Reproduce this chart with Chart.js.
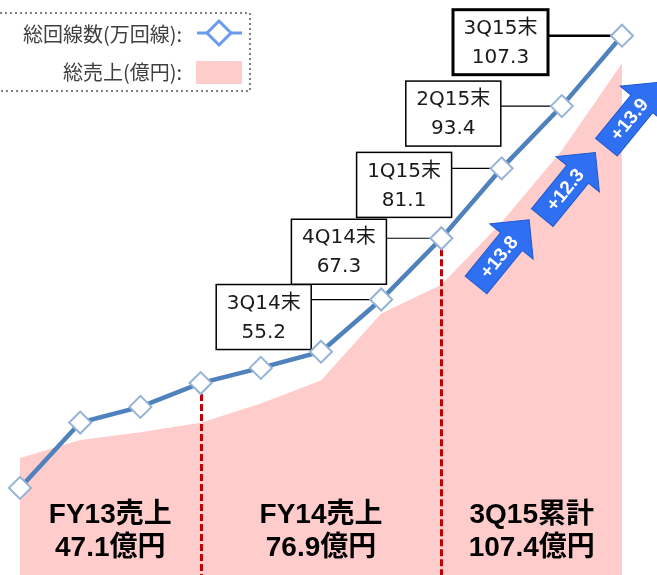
<!DOCTYPE html>
<html>
<head>
<meta charset="utf-8">
<script src="https://cdn.jsdelivr.net/npm/chart.js@4/dist/chart.umd.min.js"></script>
<style>
  html, body { margin: 0; padding: 0; background: #fff; }
  #wrap { width: 657px; height: 575px; position: relative; }
</style>
</head>
<body>
<div id="wrap"><canvas id="chart" width="657" height="575"></canvas></div>
<script>
// quarters (end of quarter)
let quarters = ['1Q13末', '2Q13末', '3Q13末', '4Q13末', '1Q14末', '2Q14末', '3Q14末', '4Q14末', '1Q15末', '2Q15末', '3Q15末'];
// total lines (万回線)
let lineCounts = [18.0, 30.9, 34.0, 38.7, 41.7, 44.9, 55.2, 67.3, 81.1, 93.4, 107.3];
// total sales trend (億円)
let salesTrend = [12.2, 14.1, 14.9, 15.9, 17.9, 20.3, 27.3, 30.3, 36.8, 44.3, 53.4];
// quarters that get a call-out box
let calloutIdx = [6, 7, 8, 9, 10];
// quarters with a growth arrow (growth vs previous quarter)
let arrowIdx = [8, 9, 10];
// fiscal year boundaries (dashed lines)
let boundaryIdx = [3, 7];
// bottom captions
let periodTitles = ['FY13売上', 'FY14売上', '3Q15累計'];
let periodSales = ['47.1億円', '76.9億円', '107.4億円'];
let periodSpans = [[0, 3], [3, 7], [7, 10]];

let legendLabels = ['総回線数(万回線):', '総売上(億円):'];

// layout tweaks for call-out boxes: [right edge offset from point, top offset from point]
let calloutPos = [[-70, -15], [-55, -19], [-50, -16], [-61, -25], [-74, -26]];
let arrowPos = [[1, 84], [7, 79], [11, 79]];

const CJK = '"Noto Sans CJK JP", sans-serif';

let overlay = {
  id: 'overlay',
  afterDatasetDraw(chart, args) {
    if (args.index !== 1) return;
    const ctx = chart.ctx;
    const meta = chart.getDatasetMeta(0);
    const bottom = chart.chartArea.bottom;
    ctx.save();
    // dashed red boundaries
    ctx.strokeStyle = '#c00000';
    ctx.lineWidth = 3;
    ctx.setLineDash([7, 3]);
    boundaryIdx.forEach(i => {
      const p = meta.data[i];
      const x = Math.round(p.x) + 0.5;
      ctx.beginPath();
      ctx.moveTo(x, p.y + 11);
      ctx.lineTo(x, bottom);
      ctx.stroke();
    });
    ctx.setLineDash([]);

    // bottom captions
    ctx.fillStyle = '#000';
    ctx.textAlign = 'center';
    ctx.textBaseline = 'middle';
    ctx.font = 'bold 28px "Liberation Sans", ' + CJK;
    periodSpans.forEach((s, k) => {
      const cx = (meta.data[s[0]].x + meta.data[s[1]].x) / 2;
      ctx.fillText(periodTitles[k], cx, bottom - 60);
      ctx.fillText(periodSales[k], cx, bottom - 27);
    });

    // call-out connectors and boxes
    calloutIdx.forEach((i, k) => {
      const p = meta.data[i];
      const last = k === calloutIdx.length - 1;
      const w = 95, h = 65;
      const right = p.x + calloutPos[k][0];
      const top = p.y + calloutPos[k][1];
      ctx.strokeStyle = '#000';
      ctx.lineWidth = last ? 2.5 : 1.2;
      ctx.beginPath();
      ctx.moveTo(right, p.y);
      ctx.lineTo(p.x - 8, p.y);
      ctx.stroke();
      ctx.fillStyle = '#fff';
      ctx.fillRect(right - w, top, w, h);
      ctx.lineWidth = last ? 3 : 1.5;
      ctx.strokeRect(right - w, top, w, h);
      ctx.fillStyle = '#1a1a1a';
      ctx.font = '20px "DejaVu Sans", ' + CJK;
      ctx.fillText(quarters[i], right - w / 2, top + 19);
      ctx.fillText(lineCounts[i].toFixed(1), right - w / 2, top + 48);
    });

    // growth arrows
    arrowIdx.forEach((i, k) => {
      const p = meta.data[i];
      const growth = '+' + (lineCounts[i] - lineCounts[i - 1]).toFixed(1);
      ctx.save();
      ctx.translate(p.x + arrowPos[k][0], p.y + arrowPos[k][1]);
      ctx.rotate(-50.8 * Math.PI / 180);
      ctx.beginPath();
      ctx.moveTo(-42, -14);
      ctx.lineTo(14, -14);
      ctx.lineTo(14, -28);
      ctx.lineTo(42, 0);
      ctx.lineTo(14, 28);
      ctx.lineTo(14, 14);
      ctx.lineTo(-42, 14);
      ctx.closePath();
      ctx.fillStyle = '#2f6ff2';
      ctx.fill();
      ctx.strokeStyle = '#2058cc';
      ctx.lineWidth = 1;
      ctx.stroke();
      ctx.fillStyle = '#fff';
      ctx.font = 'bold 19px "Liberation Sans", sans-serif';
      ctx.textAlign = 'center';
      ctx.textBaseline = 'middle';
      ctx.fillText(growth, -6, 1);
      ctx.restore();
    });
    ctx.restore();
  },
  afterDatasetsDraw(chart) {
    const ctx = chart.ctx;
    ctx.save();
    // legend
    ctx.strokeStyle = '#7f7f7f';
    ctx.lineWidth = 2;
    ctx.setLineDash([2, 3]);
    ctx.strokeRect(-5, 13, 255, 78);
    ctx.setLineDash([]);
    ctx.fillStyle = '#404040';
    ctx.font = '20px ' + CJK;
    ctx.textAlign = 'right';
    ctx.textBaseline = 'middle';
    ctx.fillText(legendLabels[0], 182, 34);
    ctx.fillText(legendLabels[1], 182, 72);
    ctx.strokeStyle = '#6b9bf0';
    ctx.lineWidth = 3;
    ctx.beginPath();
    ctx.moveTo(197, 33);
    ctx.lineTo(242, 33);
    ctx.stroke();
    ctx.beginPath();
    ctx.moveTo(219, 21);
    ctx.lineTo(231, 33);
    ctx.lineTo(219, 45);
    ctx.lineTo(207, 33);
    ctx.closePath();
    ctx.fillStyle = '#fff';
    ctx.fill();
    ctx.stroke();
    ctx.fillStyle = '#ffcccc';
    ctx.fillRect(196, 61, 46, 23);
    ctx.restore();
  }
};

let chartCanvas = document.getElementById('chart').getContext('2d');
let graph = new Chart(chartCanvas, {
  type: 'line',
  data: {
    labels: quarters,
    datasets: [
      {
        label: legendLabels[0],
        data: lineCounts,
        yAxisID: 'y',
        borderColor: '#4f81bd',
        borderWidth: 4.5,
        pointStyle: 'rectRot',
        pointRadius: 11,
        pointBackgroundColor: '#fff',
        pointBorderColor: '#95b3d7',
        pointBorderWidth: 2,
        tension: 0,
        clip: false,
        order: 0
      },
      {
        label: legendLabels[1],
        data: salesTrend,
        yAxisID: 'y2',
        backgroundColor: '#ffcccc',
        borderWidth: 0,
        pointRadius: 0,
        fill: 'start',
        tension: 0,
        order: 1
      }
    ]
  },
  options: {
    responsive: false,
    animation: false,
    layout: { autoPadding: false, padding: { left: 20, right: 35, top: 0, bottom: 0 } },
    plugins: { legend: { display: false }, tooltip: { enabled: false } },
    scales: {
      x: { display: false, offset: false },
      y: { display: false, min: 0.8, max: 114.35 },
      y2: { display: false, min: 0, max: 60 }
    }
  },
  plugins: [overlay]
});
</script>
</body>
</html>
